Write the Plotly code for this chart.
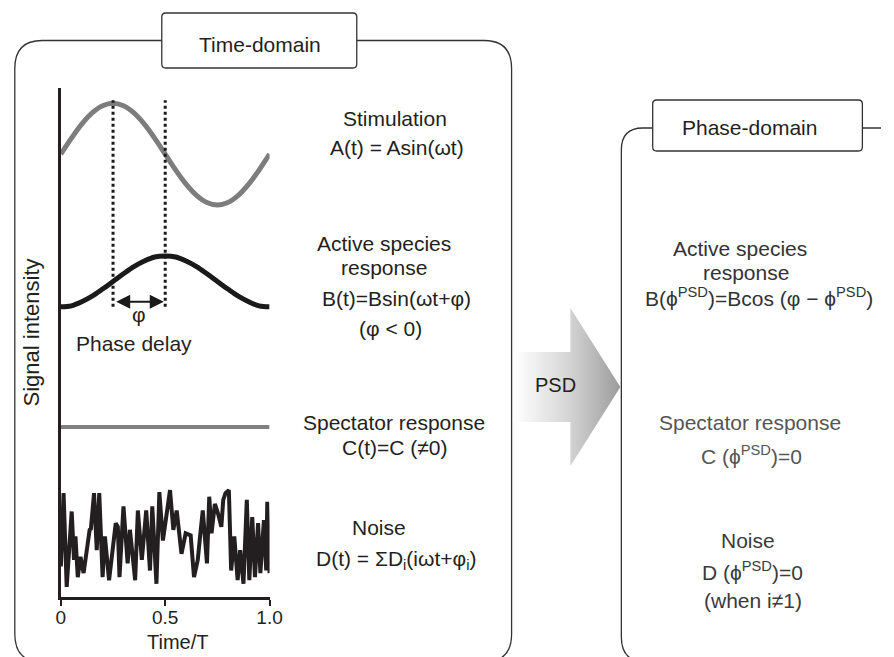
import plotly.graph_objects as go

# ---------------- data ----------------
t_grid = [0.00, 0.05, 0.10, 0.15, 0.20, 0.25, 0.30, 0.35, 0.40, 0.45, 0.50,
          0.55, 0.60, 0.65, 0.70, 0.75, 0.80, 0.85, 0.90, 0.95, 1.00]
stimulation = [8.70, 9.01, 9.29, 9.51, 9.65, 9.70, 9.65, 9.51, 9.29, 9.01, 8.70,
               8.39, 8.11, 7.89, 7.75, 7.70, 7.75, 7.89, 8.11, 8.39, 8.70]
active = [5.70, 5.72, 5.80, 5.91, 6.05, 6.20, 6.35, 6.49, 6.60, 6.68, 6.70,
          6.68, 6.60, 6.49, 6.35, 6.20, 6.05, 5.91, 5.80, 5.72, 5.70]
spectator_t = [0.0, 1.0]
spectator = [3.34, 3.34]
noise_t = [0.000, 0.013, 0.028, 0.052, 0.063, 0.070, 0.081, 0.094, 0.109, 0.122,
           0.138, 0.144, 0.159, 0.172, 0.184, 0.200, 0.211, 0.231, 0.250, 0.263,
           0.273, 0.281, 0.300, 0.320, 0.331, 0.356, 0.369, 0.388, 0.409, 0.427,
           0.438, 0.458, 0.472, 0.489, 0.523, 0.539, 0.555, 0.578, 0.598, 0.622,
           0.638, 0.656, 0.667, 0.680, 0.700, 0.711, 0.722, 0.738, 0.753, 0.769,
           0.778, 0.789, 0.805, 0.816, 0.831, 0.847, 0.859, 0.875, 0.891, 0.903,
           0.917, 0.930, 0.945, 0.956, 0.973, 0.984, 0.989, 1.000]
noise = [0.60, 2.04, 0.20, 1.68, 0.73, 1.19, 0.39, 0.79, 0.47, 0.92,
         1.32, 1.34, 2.04, 0.92, 2.04, 0.39, 1.19, 0.33, 1.11, 1.45,
         1.38, 0.39, 1.78, 0.66, 1.32, 0.33, 1.70, 0.73, 1.70, 0.52,
         1.78, 0.26, 2.06, 1.11, 2.10, 1.32, 1.70, 0.85, 1.25, 1.21,
         0.39, 0.73, 1.19, 1.70, 0.66, 1.97, 1.25, 1.83, 1.64, 1.38,
         1.91, 2.04, 2.10, 0.52, 1.19, 0.33, 0.92, 0.26, 1.91, 0.33,
         1.57, 0.39, 1.45, 0.47, 1.51, 0.52, 1.87, 0.47]
peak_times = [0.25, 0.50]          # stimulation peak / response peak
dotted_range = [5.70, 9.76]
delay_y = 5.80
tick_vals = [0, 0.5, 1.0]
tick_text = ["0", "0.5", "1.0"]

FONT = "Arial, Liberation Sans, sans-serif"
TXT = "#231f20"
W, H = 894, 657

fig = go.Figure()

# ---------------- plot traces (main axes) ----------------
fig.add_trace(go.Scatter(x=t_grid, y=stimulation, mode="lines", line_shape="spline",
                         line=dict(color="#7d7d7d", width=5), xaxis="x", yaxis="y"))
fig.add_trace(go.Scatter(x=t_grid, y=active, mode="lines", line_shape="spline",
                         line=dict(color="#1a1a1a", width=5), xaxis="x", yaxis="y"))
for pt in peak_times:
    fig.add_trace(go.Scatter(x=[pt, pt], y=dotted_range, mode="lines",
                             line=dict(color="#1a1a1a", width=3, dash="dot"),
                             xaxis="x", yaxis="y"))
fig.add_trace(go.Scatter(x=spectator_t, y=spectator, mode="lines",
                         line=dict(color="#808080", width=4), xaxis="x", yaxis="y"))
fig.add_trace(go.Scatter(x=noise_t, y=noise, mode="lines",
                         line=dict(color="#231f20", width=4), xaxis="x", yaxis="y"))

# ---------------- PSD arrow (page axes, pixel units) ----------------
arrow_x = [520, 577, 577, 628, 577, 577, 520, 520]
arrow_y = [352, 352, 308, 387, 466, 422, 422, 352]
fig.add_trace(go.Scatter(x=arrow_x, y=arrow_y, mode="lines", fill="toself",
                         line=dict(width=0, color="rgba(0,0,0,0)"),
                         fillgradient=dict(type="horizontal",
                                           colorscale=[[0, "#ffffff"], [0.5, "#d6d6d6"], [1, "#9c9c9c"]]),
                         xaxis="x2", yaxis="y2", hoverinfo="skip"))

# ---------------- boxes ----------------
def rrect(x0, y0, x1, y1, r):
    return (f"M {x0+r},{y0} L {x1-r},{y0} Q {x1},{y0} {x1},{y0+r} "
            f"L {x1},{y1-r} Q {x1},{y1} {x1-r},{y1} L {x0+r},{y1} "
            f"Q {x0},{y1} {x0},{y1-r} L {x0},{y0+r} Q {x0},{y0} {x0+r},{y0} Z")

shapes = []
line_style = dict(color="#333333", width=1.3)
shapes.append(dict(type="path", path=rrect(10, 40.5, 517, 662, 28), xref="x2", yref="y2",
                   line=line_style, fillcolor="rgba(0,0,0,0)", layer="above"))
shapes.append(dict(type="path", path=rrect(160, 13, 359, 68, 4), xref="x2", yref="y2",
                   line=line_style, fillcolor="white", layer="above"))
shapes.append(dict(type="path",
                   path="M 900,128 L 651,128 Q 629,128 629,150 L 629,637 Q 629,662 654,662 L 900,662",
                   xref="x2", yref="y2", line=line_style, fillcolor="rgba(0,0,0,0)", layer="above"))
shapes.append(dict(type="path", path=rrect(661, 100, 875, 151, 4), xref="x2", yref="y2",
                   line=line_style, fillcolor="white", layer="above"))

# ---------------- text ----------------
def txt(x, y, s, size=21, color=TXT, angle=0):
    return dict(x=x, y=y, xref="x2", yref="y2", text=s,
                showarrow=False, textangle=angle,
                font=dict(family=FONT, size=size, color=color),
                xanchor="center", yanchor="middle")

ann = []
ann.append(txt(260, 44, "Time-domain"))
ann.append(txt(760, 127, "Phase-domain"))
ann.append(txt(27, 332, "Signal intensity", size=22, angle=-90))
ann.append(txt(176, 642, "Time/T", size=20))
ann.append(txt(132, 343, "Phase delay"))
ann.append(txt(137, 314, "φ", size=21))
ann.append(txt(562, 385, "PSD", size=20))

# left descriptions
ann.append(txt(398, 118, "Stimulation"))
ann.append(txt(400, 147, "A(t) = Asin(ωt)"))
ann.append(txt(387, 243, "Active species"))
ann.append(txt(387, 267, "response"))
ann.append(txt(400, 298, "B(t)=Bsin(ωt+φ)"))
ann.append(txt(393, 328, "(φ < 0)"))
ann.append(txt(397, 422, "Spectator response"))
ann.append(txt(398, 447, "C(t)=C (≠0)"))
ann.append(txt(382, 527, "Noise"))
ann.append(txt(399, 560, "D(t) = ΣD<sub>i</sub>(iωt+φ<sub>i</sub>)"))

# right descriptions
RC = "#333333"
ann.append(txt(750, 248, "Active species", color=RC))
ann.append(txt(756, 272, "response", color=RC))
ann.append(txt(769, 297, "B(ϕ<sup>PSD</sup>)=Bcos (φ − ϕ<sup>PSD</sup>)", color=RC))
ann.append(txt(760, 422, "Spectator response", color="#555555"))
ann.append(txt(762, 455, "C (ϕ<sup>PSD</sup>)=0", color="#555555"))
ann.append(txt(758, 540, "Noise", color="#3a3a3a"))
ann.append(txt(763, 571, "D (ϕ<sup>PSD</sup>)=0", color="#3a3a3a"))
ann.append(txt(763, 600, "(when i≠1)", color="#3a3a3a"))

# phase delay double arrow (data coords)
ann.append(dict(x=0.493, y=delay_y, ax=0.258, ay=delay_y, xref="x", yref="y",
                axref="x", ayref="y", text="", showarrow=True,
                arrowhead=2, startarrowhead=2, arrowside="end+start",
                arrowwidth=2, arrowsize=1.4, startarrowsize=1.4, arrowcolor="#1a1a1a"))

fig.update_layout(
    width=W, height=H, margin=dict(l=0, r=0, t=0, b=0),
    paper_bgcolor="white", plot_bgcolor="rgba(0,0,0,0)",
    showlegend=False, shapes=shapes, annotations=ann,
    xaxis=dict(domain=[57 / W, 270 / W], range=[0, 1], showline=True, linewidth=2.5,
               linecolor=TXT, showgrid=False, zeroline=False, ticks="outside",
               ticklen=6, tickwidth=2, tickcolor=TXT, tickvals=tick_vals, ticktext=tick_text,
               tickfont=dict(family=FONT, size=19, color=TXT), anchor="y",
               ticklabelstandoff=-5),
    yaxis=dict(domain=[1 - 597 / H, 1 - 88 / H], range=[0, 10], showline=True, linewidth=2.5,
               linecolor=TXT, showgrid=False, zeroline=False, showticklabels=False,
               ticks="", anchor="x"),
    xaxis2=dict(domain=[0, 1], range=[0, W], visible=False, anchor="y2", fixedrange=True),
    yaxis2=dict(domain=[0, 1], range=[H, 0], visible=False, anchor="x2", fixedrange=True),
)

fig.write_html("out.html")
